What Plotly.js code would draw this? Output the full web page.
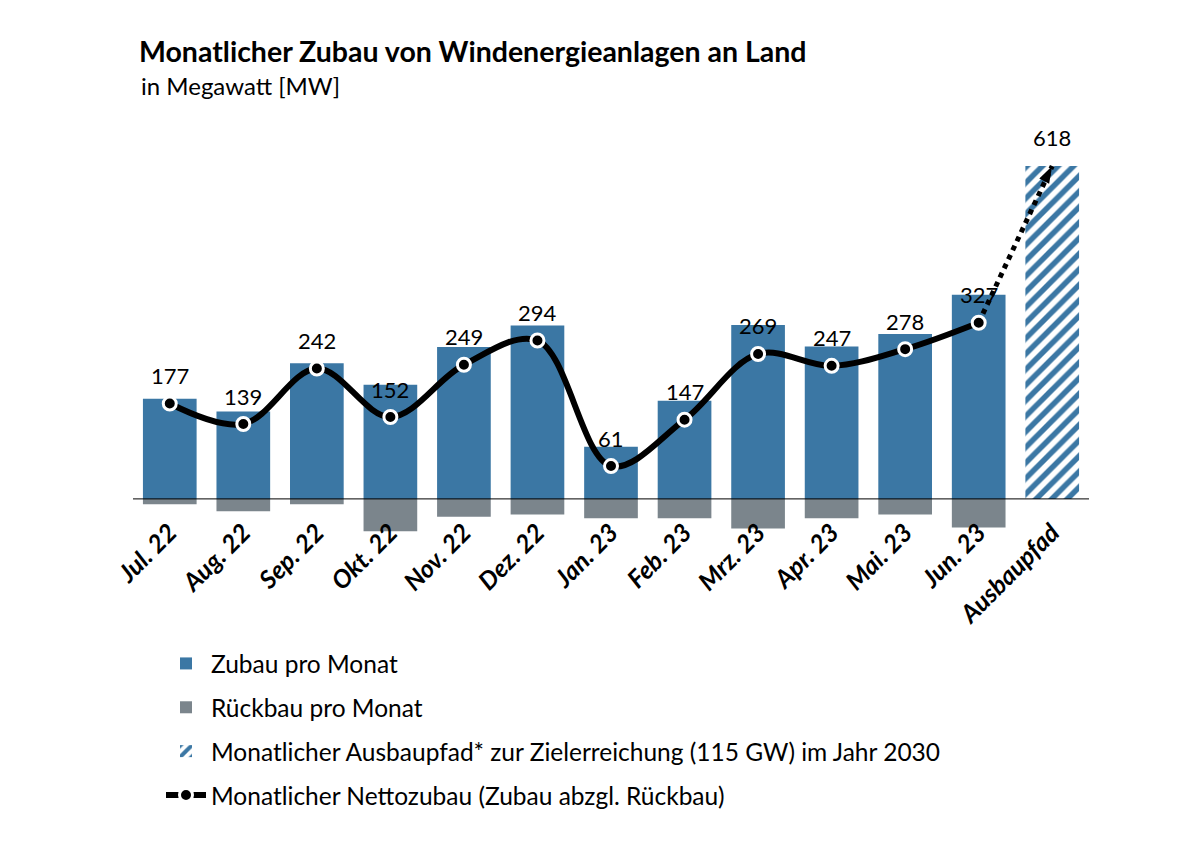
<!DOCTYPE html>
<html>
<head>
<meta charset="utf-8">
<script src="https://cdn.plot.ly/plotly-3.0.1.min.js"></script>
<style>html,body{margin:0;padding:0;background:#fff;}#chart{width:1200px;height:861px;}</style>
</head>
<body>
<div id="chart"></div>
<script>
// ---- data ----
const months = ["Jul. 22","Aug. 22","Sep. 22","Okt. 22","Nov. 22","Dez. 22","Jan. 23","Feb. 23","Mrz. 23","Apr. 23","Mai. 23","Jun. 23"];
const targetCategory = "Ausbaupfad";
const zubau = [186,162,252,212,282,322,97,182,323,283,306,379];
const rueckbau = [-10,-23,-10,-60,-33,-29,-36,-36,-55,-36,-29,-53];
const netto = [177,139,242,152,249,294,61,147,269,247,278,327];
const ausbaupfad = [618];
const nettoLabels = ["177","139","242","152","249","294","61","147","269","247","278","327"];
const ausbaupfadLabels = ["618"];

const BLUE = "#3b77a4";
const GREY = "#7b858c";
const FONT = "Lato, 'Open Sans', sans-serif";

const traces = [
  {type:"bar", name:"Zubau pro Monat", x:months, y:zubau, width:0.73,
   marker:{color:BLUE}, legendgroup:"a", hoverinfo:"skip"},
  {type:"bar", name:"Rückbau pro Monat", x:months, y:rueckbau, width:0.73,
   marker:{color:GREY}, legendgroup:"b", hoverinfo:"skip"},
  {type:"bar", name:"Monatlicher Ausbaupfad* zur Zielerreichung (115 GW) im Jahr 2030",
   x:[targetCategory], y:ausbaupfad, width:0.73, legendgroup:"c",
   marker:{color:"#ffffff", pattern:{shape:"/", fgcolor:BLUE, bgcolor:"#ffffff", size:11, solidity:0.5}},
   hoverinfo:"skip"},
  {type:"scatter", mode:"lines", showlegend:false, legendgroup:"c",
   x:[months[months.length-1], targetCategory], y:[netto[netto.length-1], ausbaupfad[0]],
   line:{color:"#000", width:5, dash:"dot"}, hoverinfo:"skip"},
  {type:"scatter", mode:"markers", showlegend:false, legendgroup:"c",
   x:[targetCategory], y:ausbaupfad,
   marker:{symbol:"arrow", size:18, color:"#000", angle:28}, hoverinfo:"skip"},
  {type:"scatter", mode:"lines+markers", name:"Monatlicher Nettozubau (Zubau abzgl. Rückbau)",
   x:months, y:netto, legendgroup:"d",
   line:{color:"#000", width:6, shape:"spline", smoothing:1},
   marker:{color:"#000", size:13, line:{color:"#fff", width:3}}, hoverinfo:"skip"}
];

const annotations = [];
months.forEach((m,i)=>{
  annotations.push({x:m, y:netto[i], text:nettoLabels[i], showarrow:false, yshift:28,
    font:{family:FONT, size:22, color:"#000"}});
});
annotations.push({x:targetCategory, y:ausbaupfad[0], text:ausbaupfadLabels[0], showarrow:false, yshift:28,
  font:{family:FONT, size:22, color:"#000"}});
annotations.push({xref:"paper", yref:"paper", x:(139-133)/956, y:(542-86)/431, xanchor:"left", yanchor:"middle",
  text:"in Megawatt [MW]", showarrow:false, font:{family:FONT, size:24, color:"#000"}});

const layout = {
  width:1200, height:861,
  paper_bgcolor:"#fff", plot_bgcolor:"#fff",
  margin:{l:133, r:111, t:111, b:319, autoexpand:false},
  font:{family:FONT, color:"#000"},
  title:{text:"<b>Monatlicher Zubau von Windenergieanlagen an Land</b>", x:139/1200, xanchor:"left",
    xref:"container", y:1-52/861, yanchor:"middle", yref:"container",
    font:{family:FONT, size:28.5, color:"#000"}},
  barmode:"relative", bargap:0.27,
  showlegend:true,
  legend:{x:(161-133)/956, y:(542-641)/431, xanchor:"left", yanchor:"top", orientation:"v",
    traceorder:"grouped", tracegroupgap:9, font:{family:FONT, size:24.5, color:"#000"},
    bgcolor:"rgba(0,0,0,0)", itemwidth:40},
  xaxis:{type:"category", categoryorder:"array", categoryarray:months.concat([targetCategory]),
    range:[-0.5, 12.5], showgrid:false, showline:false, zeroline:false, ticks:"",
    tickangle:-45, ticklabelstandoff:-30,
    tickfont:{family:FONT, size:25, color:"#000", weight:"bold", style:"italic"},
    fixedrange:true},
  yaxis:{range:[-80, 720], showgrid:false, zeroline:false, showline:false, showticklabels:false,
    ticks:"", fixedrange:true},
  shapes:[{type:"line", xref:"paper", yref:"y", x0:0, x1:1, y0:0, y1:0, layer:"above",
    line:{color:"#000", width:1}}],
  annotations:annotations
};

Plotly.newPlot("chart", traces, layout, {displayModeBar:false, staticPlot:true});
</script>
</body>
</html>
